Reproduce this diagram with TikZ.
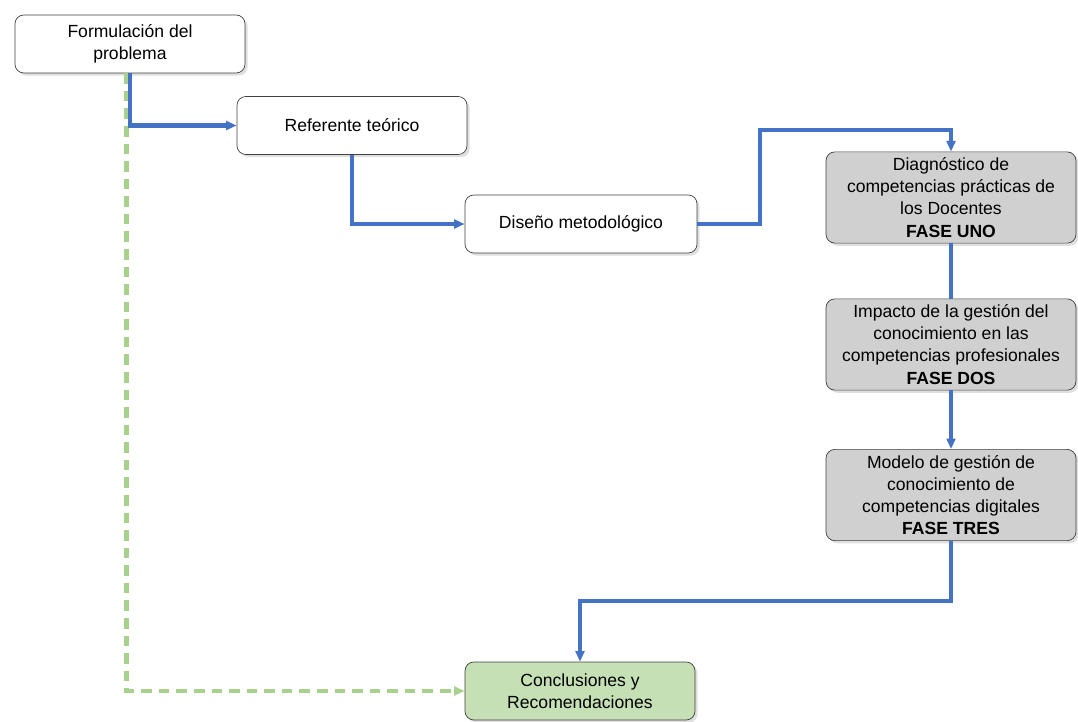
\documentclass[tikz,border=0pt]{standalone}
\usepackage{fontspec}
\setmainfont{Liberation Sans}
\usepackage{tikz}
\usetikzlibrary{positioning,arrows.meta,shadows}
\usepackage{xcolor}
\definecolor{flowblue}{RGB}{68,114,196}
\definecolor{phasegray}{RGB}{208,208,208}
\definecolor{endgreen}{RGB}{197,224,180}
\definecolor{dashgreen}{RGB}{169,209,142}

\begin{document}
\begin{tikzpicture}[
    x=0.02cm, y=-0.02cm,
    box/.style      = {draw=black!75, rounded corners=5pt, fill=white,
                       minimum width=4.6cm, minimum height=1.16cm,
                       font=\fontsize{10pt}{12.6pt}\selectfont, align=center,
                       drop shadow={opacity=0.25, shadow xshift=1.5pt, shadow yshift=-1.5pt}},
    phase/.style    = {box, fill=phasegray, minimum width=5cm, minimum height=1.7cm},
    final/.style    = {box, fill=endgreen},
    arr/.style      = {-{Triangle[length=6pt,width=5pt]}, line width=2.3pt, flowblue},
    link/.style     = {line width=2.3pt, flowblue},
    sarr/.style     = {-{Triangle[length=6pt,width=5pt]}, line width=2.5pt, dashgreen,
                       dash pattern=on 6pt off 4pt}
]
\useasboundingbox (0,0) rectangle (1078,721);

\node[box]   (form) at (130,44)    {Formulación del\\problema};
\node[box]   (ref)  at (352,125.5) {Referente teórico};
\node[box, minimum width=4.64cm] (dis) at (581,224) {Diseño metodológico};
\node[phase] (diag) at (951,197.5) {Diagnóstico de\\competencias prácticas de\\los Docentes\\\textbf{FASE UNO}};
\node[phase] (imp)  at (951,344.5) {Impacto de la gestión del\\conocimiento en las\\competencias profesionales\\\textbf{FASE DOS}};
\node[phase] (mod)  at (951,495)   {Modelo de gestión de\\conocimiento de\\competencias digitales\\\textbf{FASE TRES}};
\node[final] (conc) at (580,691)   {Conclusiones y\\Recomendaciones};

\coordinate (up)   at (760,130);
\coordinate (down) at (580,601);

\draw[sarr] ([xshift=-2pt]form.south) |- (conc.west);
\draw[arr] (form.south) |- (ref.west);
\draw[arr] (ref.south)  |- (dis.west);
\draw[arr] (dis.east)   -| (up) -| (diag.north);
\draw[link] (diag.south) -- (imp.north);
\draw[arr] (imp.south)  -- (mod.north);
\draw[arr] (mod.south)  |- (down) -- (conc.north);

\end{tikzpicture}
\end{document}
